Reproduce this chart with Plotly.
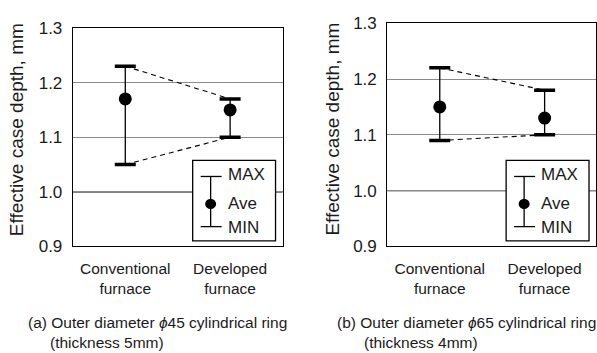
import plotly.graph_objects as go

# ---------------- data ----------------
categories = ["Conventional<br>furnace", "Developed<br>furnace"]
a_max = [1.23, 1.17]
a_ave = [1.17, 1.15]
a_min = [1.05, 1.10]
b_max = [1.22, 1.18]
b_ave = [1.15, 1.13]
b_min = [1.09, 1.10]
y_ticks = [0.9, 1.0, 1.1, 1.2, 1.3]
y_ticktext = ["0.9", "1.0", "1.1", "1.2", "1.3"]
y_title = "Effective case depth, mm"
cap_a = ["(a) Outer diameter <i>ϕ</i>45 cylindrical ring", "(thickness 5mm)"]
cap_b = ["(b) Outer diameter <i>ϕ</i>65 cylindrical ring", "(thickness 4mm)"]
legend_labels = ["MAX", "Ave", "MIN"]

W, H = 597, 353
FONT = "Liberation Sans, Arial, Helvetica, sans-serif"
TXT = "#1a1a1a"

def px(x):
    return x / W

def py(y):
    return 1 - y / H

fig = go.Figure()

panels = [
    dict(xa="x", ya="y", mx=a_max, av=a_ave, mn=a_min),
    dict(xa="x2", ya="y2", mx=b_max, av=b_ave, mn=b_min),
]
xpos = list(range(len(categories)))

for p in panels:
    # dashed connecting lines (MAX-MAX, MIN-MIN)
    for series in (p["mx"], p["mn"]):
        fig.add_trace(go.Scatter(x=xpos, y=series, mode="lines", xaxis=p["xa"], yaxis=p["ya"],
                                 line=dict(color="black", width=1.1, dash="5px,4px"),
                                 showlegend=False, hoverinfo="skip"))
    # vertical range lines
    vx, vy = [], []
    for i in xpos:
        vx += [i, i, None]
        vy += [p["mn"][i], p["mx"][i], None]
    fig.add_trace(go.Scatter(x=vx, y=vy, mode="lines", xaxis=p["xa"], yaxis=p["ya"],
                             line=dict(color="black", width=1.3), showlegend=False, hoverinfo="skip"))
    # caps
    fig.add_trace(go.Scatter(x=xpos + xpos, y=p["mx"] + p["mn"], mode="markers",
                             xaxis=p["xa"], yaxis=p["ya"],
                             marker=dict(symbol="line-ew", size=15, line=dict(color="black", width=3.5)),
                             showlegend=False, hoverinfo="skip"))
    # average dots
    fig.add_trace(go.Scatter(x=xpos, y=p["av"], mode="markers", xaxis=p["xa"], yaxis=p["ya"],
                             marker=dict(symbol="circle", size=13, color="black"),
                             showlegend=False, hoverinfo="skip"))

axis_common_y = dict(range=[0.9, 1.3], tickvals=y_ticks, ticktext=y_ticktext, showgrid=True,
                     gridcolor="#8a8a8a", gridwidth=1.3, showline=True, mirror=True,
                     linecolor="black", linewidth=1.3, ticks="", zeroline=False,
                     ticklabelstandoff=6, tickfont=dict(size=17, color=TXT, family=FONT))
axis_common_x = dict(range=[-0.5, 1.5], tickvals=xpos, ticktext=categories, showgrid=False,
                     showline=True, mirror=True, linecolor="black", linewidth=1.3, ticks="",
                     zeroline=False, ticklabelstandoff=8,
                     tickfont=dict(size=15.5, color=TXT, family=FONT))

fig.update_layout(
    width=W, height=H, margin=dict(l=0, r=0, t=0, b=0),
    paper_bgcolor="white", plot_bgcolor="white", showlegend=False,
    font=dict(family=FONT, color=TXT),
    xaxis=dict(domain=[px(73), px(283)], anchor="y", **axis_common_x),
    yaxis=dict(domain=[py(251), py(20)], anchor="x", **axis_common_y),
    xaxis2=dict(domain=[px(388), 1.0], anchor="y2", **dict(axis_common_x, range=[-0.5, 1.49])),
    yaxis2=dict(domain=[py(251), py(15)], anchor="x2", **axis_common_y),
)

# black reference line at 1.0
for xr, yr in (("x domain", "y"), ("x2 domain", "y2")):
    fig.add_shape(type="line", xref=xr, yref=yr, x0=0, x1=1, y0=y_ticks[1], y1=y_ticks[1],
                  line=dict(color="black", width=1.3), layer="below")

# axis titles
for xc in (16, 333):
    fig.add_annotation(text=y_title, textangle=-90, x=px(xc), y=py(127), xref="paper", yref="paper",
                       showarrow=False, font=dict(size=19, family=FONT, color=TXT),
                       xanchor="center", yanchor="middle")

# captions
for caps, x1, x2 in ((cap_a, 26, 48), (cap_b, 336, 363)):
    fig.add_annotation(text=caps[0], x=px(x1), y=py(331), xref="paper", yref="paper", showarrow=False,
                       xanchor="left", yanchor="middle", font=dict(size=15.5, family=FONT, color=TXT))
    fig.add_annotation(text=caps[1], x=px(x2), y=py(352), xref="paper", yref="paper", showarrow=False,
                       xanchor="left", yanchor="middle", font=dict(size=15.5, family=FONT, color=TXT))

# legend boxes
for bx in (193, 507):
    fig.add_shape(type="rect", xref="paper", yref="paper", x0=px(bx), x1=px(bx + 83),
                  y0=py(245), y1=py(160), line=dict(color="black", width=1.3), fillcolor="white",
                  layer="above")
    cx = bx + 18
    fig.add_shape(type="line", xref="paper", yref="paper", x0=px(cx), x1=px(cx), y0=py(230), y1=py(177),
                  line=dict(color="black", width=1.3), layer="above")
    for yy in (177, 230):
        fig.add_shape(type="line", xref="paper", yref="paper", x0=px(cx - 10), x1=px(cx + 11),
                      y0=py(yy), y1=py(yy), line=dict(color="black", width=1.3), layer="above")
    fig.add_shape(type="circle", xref="paper", yref="paper", x0=px(cx - 5.5), x1=px(cx + 5.5),
                  y0=py(211.5), y1=py(200.5), fillcolor="black", line=dict(color="black", width=0),
                  layer="above")
    for lab, yy in zip(legend_labels, (175, 206, 231)):
        fig.add_annotation(text=lab, x=px(bx + 33), y=py(yy), xref="paper", yref="paper",
                           showarrow=False, xanchor="left", yanchor="middle",
                           font=dict(size=17, family=FONT, color=TXT))

fig.write_html("out.html", config={"displayModeBar": False},
               post_script="document.body.style.margin='0';document.body.style.overflow='hidden';")
